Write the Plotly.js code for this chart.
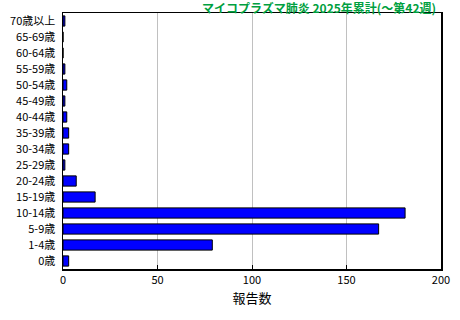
<!DOCTYPE html>
<html><head><meta charset="utf-8">
<script src="https://cdn.plot.ly/plotly-3.0.1.min.js"></script>
<style>body{margin:0;background:#fff}#chart{width:460px;height:320px}</style>
</head><body><div id="chart"></div>
<script>
const ageGroups = ["0歳","1-4歳","5-9歳","10-14歳","15-19歳","20-24歳","25-29歳","30-34歳","35-39歳","40-44歳","45-49歳","50-54歳","55-59歳","60-64歳","65-69歳","70歳以上"];
const reports = [3, 79, 167, 181, 17, 7, 1, 3, 3, 2, 1, 2, 1, 0, 0, 1];
const xTicks = [0, 50, 100, 150, 200];
const titleText = "マイコプラズマ肺炎 2025年累計(～第42週)";
const axisTitle = "報告数";
const font = "'Noto Sans CJK JP', 'MS Gothic', sans-serif";

Plotly.newPlot("chart", [{
  type: "bar", orientation: "h",
  x: reports, y: ageGroups,
  marker: {color: "#0000FF", line: {color: "#000000", width: 1}},
  hoverinfo: "none"
}], {
  width: 460, height: 320,
  margin: {l: 63, r: 19, t: 13, b: 51},
  paper_bgcolor: "#fff", plot_bgcolor: "#fff",
  bargap: 0.36,
  showlegend: false,
  font: {family: font, size: 11, color: "#000"},
  annotations: [{text: "<b>" + titleText + "</b>", xref: "paper", x: 0.99, xanchor: "right",
                 yref: "paper", y: 1.0234, yanchor: "middle", showarrow: false,
                 borderpad: 0, font: {family: font, size: 12, color: "#00A040"}}],
  xaxis: {range: [0, 200], tickvals: xTicks, ticktext: xTicks.map(String),
          showgrid: true, gridcolor: "#c0c0c0", gridwidth: 1,
          ticks: "inside", ticklen: 4, tickcolor: "#000",
          showline: true, linecolor: "#000", linewidth: 1.5, mirror: true,
          zeroline: false, fixedrange: true,
          tickfont: {family: font, size: 11, color: "#000"},
          title: {text: axisTitle, font: {family: font, size: 13, color: "#000"}, standoff: 8}},
  yaxis: {type: "category", categoryorder: "array", categoryarray: ageGroups,
          showline: true, linecolor: "#000", linewidth: 1.5, mirror: true,
          showgrid: false, ticks: "", ticklen: 0, zeroline: false, fixedrange: true,
          ticklabelstandoff: 4,
          tickfont: {family: font, size: 11, color: "#000"}}
}, {displayModeBar: false, staticPlot: true});
</script></body></html>
